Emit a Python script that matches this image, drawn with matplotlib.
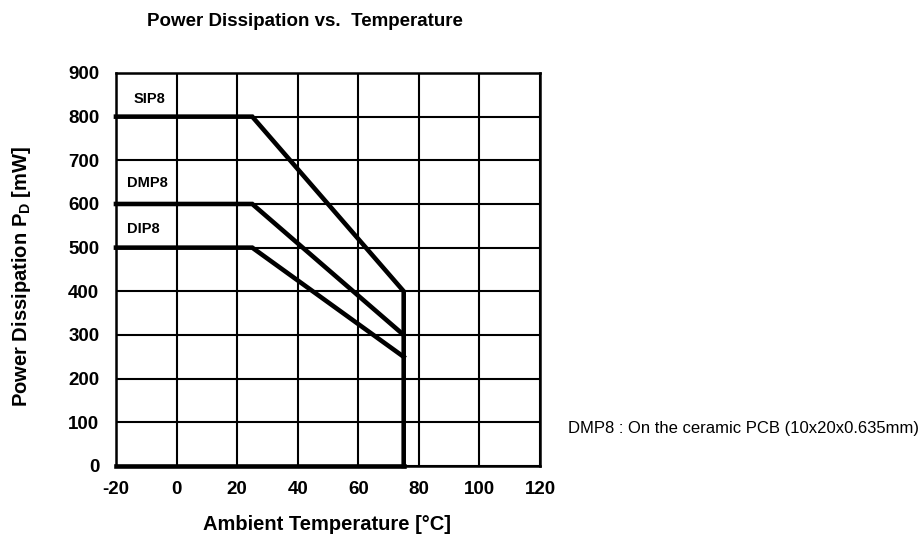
import matplotlib
matplotlib.use("Agg")
import matplotlib.pyplot as plt

# Data
temps_sip8 = [-20, 25, 75, 75]
power_sip8 = [800, 800, 400, 0]
temps_dmp8 = [-20, 25, 75]
power_dmp8 = [600, 600, 300]
temps_dip8 = [-20, 25, 75]
power_dip8 = [500, 500, 250]
temps_base = [-20, 75]
power_base = [0, 0]
labels = ["SIP8", "DMP8", "DIP8"]
label_pos = [(-14.3, 841), (-16.3, 647), (-16.3, 543)]
x_ticks = [-20, 0, 20, 40, 60, 80, 100, 120]
y_ticks = [0, 100, 200, 300, 400, 500, 600, 700, 800, 900]

plt.rcParams['font.family'] = ['Liberation Sans', 'DejaVu Sans']
plt.rcParams['axes.unicode_minus'] = False

fig = plt.figure(figsize=(9.24, 5.35), dpi=100)
ax = fig.add_axes([0.1255, 0.129, 0.4589, 0.7346])

ax.set_xlim(-20, 120)
ax.set_ylim(0, 900)
ax.set_xticks(x_ticks)
ax.set_yticks(y_ticks)
ax.grid(True, color='black', linewidth=1.5)
ax.set_axisbelow(True)
for s in ax.spines.values():
    s.set_linewidth(1.8)
    s.set_color('black')
ax.tick_params(axis='y', length=0, pad=12, labelsize=13.5)
ax.tick_params(axis='x', length=0, pad=11, labelsize=13.5)
for lab in ax.get_xticklabels() + ax.get_yticklabels():
    lab.set_fontweight('bold')

lw = 3.3
ax.plot(temps_sip8, power_sip8, color='black', lw=lw, solid_joinstyle='miter', clip_on=False)
ax.plot(temps_dmp8, power_dmp8, color='black', lw=lw, solid_joinstyle='miter', clip_on=False)
ax.plot(temps_dip8, power_dip8, color='black', lw=lw, solid_joinstyle='miter', clip_on=False)
ax.plot(temps_base, power_base, color='black', lw=lw, clip_on=False)

for t, (x, y) in zip(labels, label_pos):
    ax.text(x, y, t, fontsize=10.5, fontweight='bold', ha='left', va='center')

fig.text(305/924, 1 - 22/535, "Power Dissipation vs.  Temperature", fontsize=13.5,
         fontweight='bold', ha='center', va='center')
fig.text(327/924, 1 - 525/535, "Ambient Temperature [°C]", fontsize=14.5,
         fontweight='bold', ha='center', va='center')
fig.text(22/924, 1 - 276/535, "Power Dissipation P$_\\mathregular{D}$ [mW]", fontsize=14.5,
         fontweight='bold', ha='center', va='center', rotation=90)

fig.text(568/924, 1 - 428/535, "DMP8 : On the ceramic PCB (10x20x0.635mm)", fontsize=12,
         ha='left', va='center')

fig.savefig("out.png", dpi=100)
